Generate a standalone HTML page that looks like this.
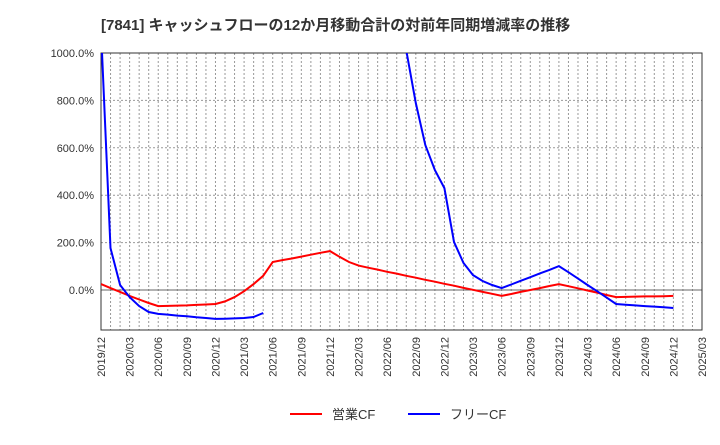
<!DOCTYPE html>
<html><head><meta charset="utf-8"><style>
body{margin:0;background:#fff;font-family:"Liberation Sans","Noto Sans CJK JP",sans-serif;}
</style></head><body>
<svg id="c" width="720" height="440" xmlns="http://www.w3.org/2000/svg" font-family="Liberation Sans, Noto Sans CJK JP, sans-serif">
<text x="101" y="30" font-size="15" font-weight="bold" fill="#333">[7841]  キャッシュフローの12か月移動合計の対前年同期増減率の推移</text>
<defs><clipPath id="pc"><rect x="101" y="53" width="601" height="277"/></clipPath></defs>
<g id="grid"></g><g id="axes"></g>
<g id="series" clip-path="url(#pc)"></g>
<g>
<line x1="290" y1="414" x2="322" y2="414" stroke="#f00" stroke-width="2"/>
<text x="332" y="419" font-size="13" fill="#333">営業CF</text>
<line x1="408" y1="414" x2="440" y2="414" stroke="#00f" stroke-width="2"/>
<text x="450" y="419" font-size="13" fill="#333">フリーCF</text>
</g>
</svg>
<script>
const yTicks=[0,200,400,600,800,1000];
const xLabels=["2019/12","2020/03","2020/06","2020/09","2020/12","2021/03","2021/06","2021/09","2021/12","2022/03","2022/06","2022/09","2022/12","2023/03","2023/06","2023/09","2023/12","2024/03","2024/06","2024/09","2024/12","2025/03"];
const opCF=[25,8,-8,-25,-40,-55,-68,-67,-66,-65,-63,-61,-59,-48,-30,-5,25,60,118,126,133,141,149,157,164,140,118,103,94,86,77,69,60,52,43,35,26,18,9,1,-8,-16,-25,-17,-8,0,8,17,25,16,7,-2,-11,-21,-30,-29,-28,-27,-27,-26,-25];
const freeCF=[1100,177,21,-30,-68,-93,-101,-104,-108,-111,-115,-118,-122,-121,-120,-118,-114,-97,null,null,null,null,null,null,null,null,null,null,null,null,null,null,1010,789,612,506,430,203,114,63,38,21,8,23,39,54,70,85,101,75,48,21,-5,-32,-59,-62,-65,-68,-70,-73,-76];
const X0=101,X1=702,Y0=290,PX=47.4/200,NM=63;
const xs=m=>X0+(X1-X0)*m/NM, ys=v=>Y0-v*PX;
const NS="http://www.w3.org/2000/svg";
function mk(t,a,p){const e=document.createElementNS(NS,t);for(const k in a)e.setAttribute(k,a[k]);p.appendChild(e);return e;}
const g=document.getElementById('grid'),ax=document.getElementById('axes'),s=document.getElementById('series');
for(let m=1;m<NM;m++){const l=mk('line',{x1:xs(m),x2:xs(m),y1:53,y2:330,stroke:'#999','stroke-width':1,'stroke-dasharray':'2,2'},g);

}
yTicks.forEach(v=>{const y=ys(v);
const l=mk('line',{x1:X0,x2:X1,y1:y,y2:y,stroke:v===0?'#666':'#999','stroke-width':1,'stroke-dasharray':v===0?'':'2,2'},g);


const t=mk('text',{x:94,y:y+4,'font-size':11,fill:'#333','text-anchor':'end'},ax);t.textContent=v.toFixed(1)+'%';

});
xLabels.forEach((lb,i)=>{const x=xs(i*3);
const t=mk('text',{x:0,y:0,'font-size':11,fill:'#333','text-anchor':'end',transform:`translate(${x+4},337) rotate(-90)`},ax);t.textContent=lb;

});
const fr=mk('rect',{x:X0,y:53,width:X1-X0,height:277,fill:'none',stroke:'#333','stroke-width':1},ax);


function draw(arr,col,name){let d='',pen=false;arr.forEach((v,i)=>{if(v===null){pen=false;return;}d+=(pen?'L':'M')+xs(i).toFixed(1)+','+ys(v).toFixed(1);pen=true;});
const p=mk('path',{d:d,fill:'none',stroke:col,'stroke-width':2},s);

}
draw(opCF,'#f00','operating-cf-line');
draw(freeCF,'#00f','free-cf-line');
</script>
</body></html>
